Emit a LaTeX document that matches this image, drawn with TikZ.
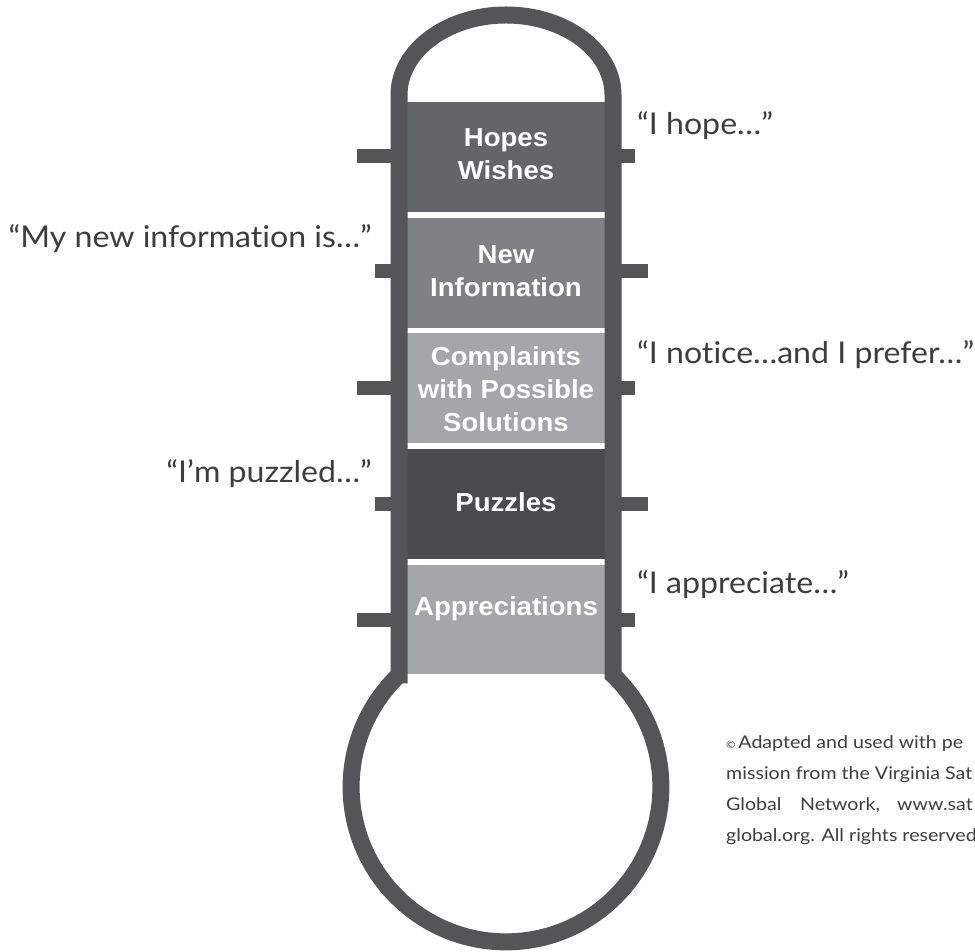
\documentclass[tikz,border=0pt]{standalone}
\usepackage{fontspec}
\setmainfont{Liberation Sans}[BoldFeatures={FakeStretch=1.06}]
\newfontfamily\qfont{Lato}[FakeStretch=1.07,Ligatures=NoCommon]
\newfontfamily\cfont{Lato}[FakeStretch=1.12,Ligatures=NoCommon]
\definecolor{wall}{HTML}{555557}
\definecolor{bandA}{HTML}{646568}
\definecolor{bandB}{HTML}{808184}
\definecolor{bandC}{HTML}{A5A6A9}
\definecolor{bandD}{HTML}{4B4B4D}
\definecolor{txt}{HTML}{3D3D3F}
\tikzset{
  tick/.style={fill=wall,draw=none},
  lbl/.style={text=white,font=\fontsize{26}{33}\selectfont\bfseries,align=center,inner sep=0pt},
  quote/.style={text=txt,font=\qfont\fontsize{30}{36}\selectfont,inner sep=0pt},
  copy/.style={text=txt,font=\cfont\fontsize{17.5}{31}\selectfont,inner sep=0pt,anchor=base west}
}
\begin{document}
\begin{tikzpicture}[x=1pt,y=1pt]
\useasboundingbox (0,0) rectangle (975,952);
% bands
\fill[bandA] (400,740) rectangle (612,850);
\fill[bandB] (400,624) rectangle (612,734);
\fill[bandC] (400,509) rectangle (612,619);
\fill[bandD] (400,393) rectangle (612,503);
\fill[bandC] (400,278) rectangle (612,387);
% ticks
\foreach \yy/\l/\r in {796/357/635, 681/375/648, 564/357/635, 448/375/648, 332/357/635}{
  \fill[tick] (\l,\yy-7) rectangle (395,\yy+7);
  \fill[tick] (615,\yy-7) rectangle (\r,\yy+7);
}
% thermometer outline
\draw[wall,line width=17pt,line join=miter] (399,277) -- (399,857)
  arc[start angle=180,end angle=0,x radius=107,y radius=80] -- (613,277)
  arc[start angle=46.3,end angle=-226.3,radius=154.9] -- cycle;
% labels
\node[lbl] (hopes) at (506,798) {Hopes\\Wishes};
\node[lbl] (newinfo) at (506,681) {New\\Information};
\node[lbl] (compl) at (506,563) {Complaints\\with Possible\\Solutions};
\node[lbl] (puzz) at (506,450) {Puzzles};
\node[lbl] (appr) at (506,343) {Appreciations};
% quotes
\node[quote,anchor=base west] (qhope) at (637,817) {“I hope…”};
\node[quote,anchor=base east] (qnew) at (372,704) {“My new information is…”};
\node[quote,anchor=base west] (qnotice) at (637,588) {“I notice…and I prefer…”};
\node[quote,anchor=base east] (qpuzz) at (372,469) {“I’m puzzled…”};
\node[quote,anchor=base west] (qappr) at (637,358) {“I appreciate…”};
% copyright
\begin{scope}
\clip (0,0) rectangle (975,952);
\node[copy] (c1) at (726,203) {{\fontsize{10}{10}\selectfont\textcopyright}\,Adapted and used with pe};
\node[copy] (c2) at (726,172) {mission from the Virginia Sat};
\node[copy] (c3) at (726,141) {\makebox[74pt][l]{Global}\makebox[97pt][l]{Network,}www.sat};
\node[copy] (c4) at (726,110) {global.org. All rights reserved};
\end{scope}
\end{tikzpicture}
\end{document}
